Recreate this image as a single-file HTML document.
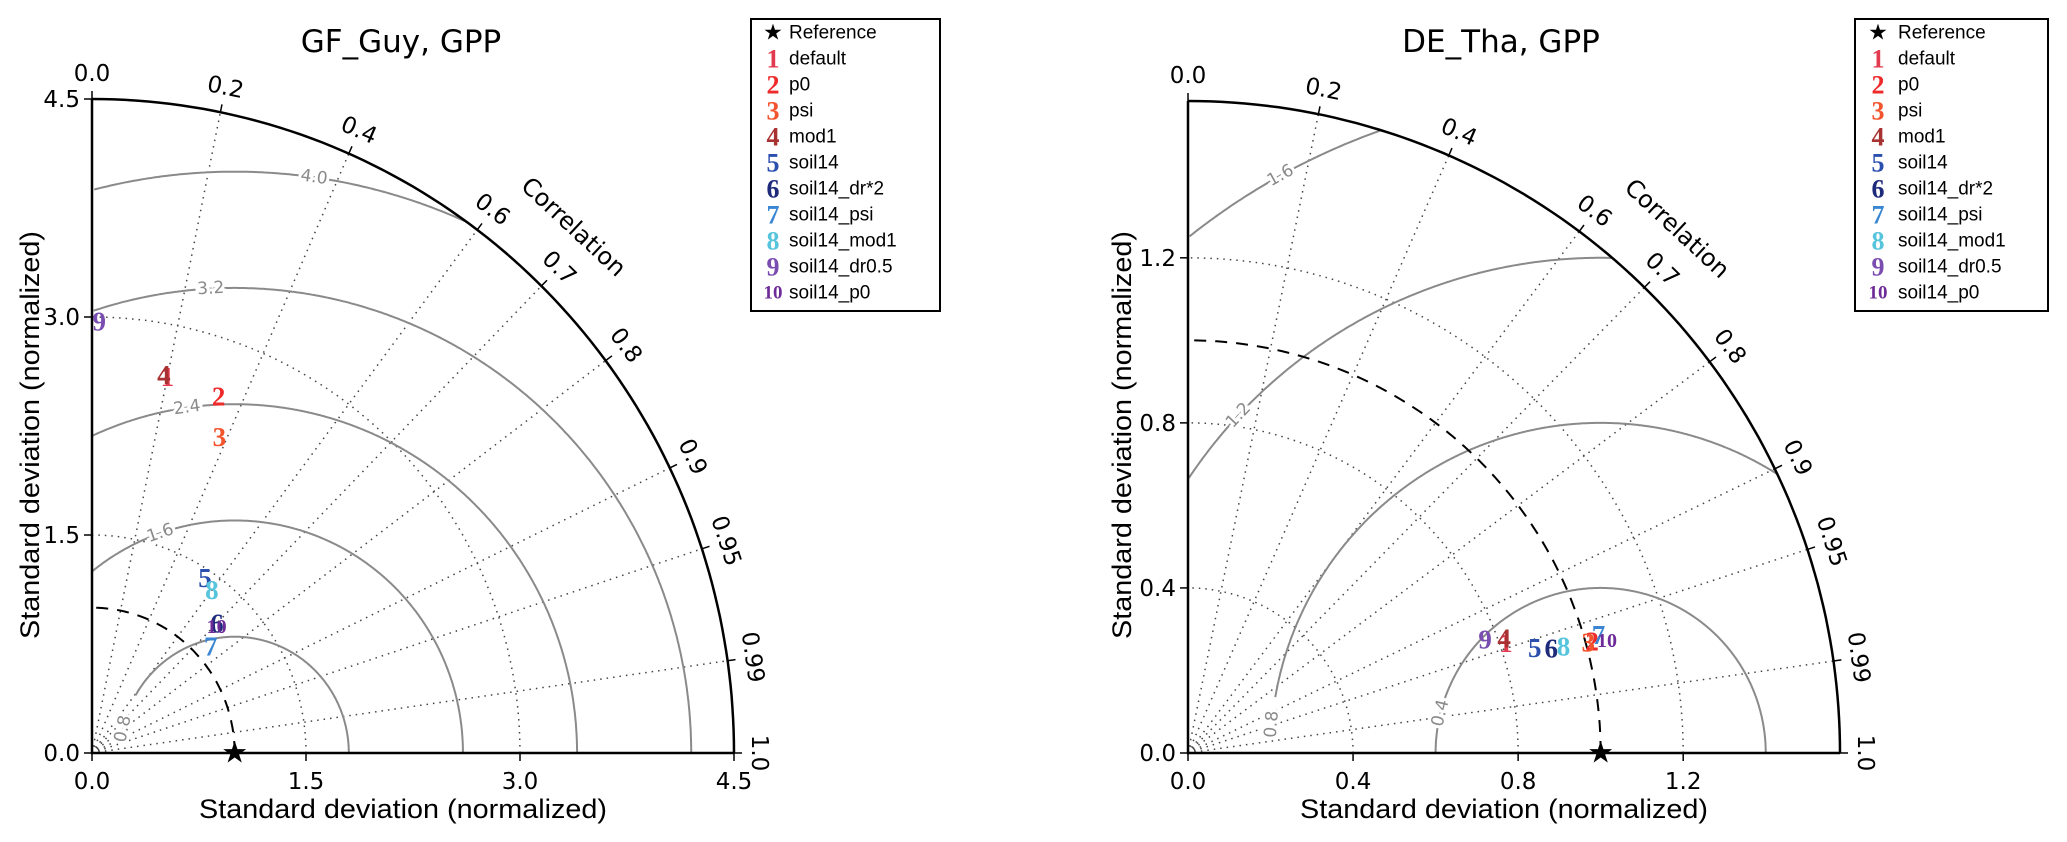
<!DOCTYPE html>
<html><head><meta charset="utf-8"><style>
html,body{margin:0;padding:0;background:#fff;}
svg{display:block;}
</style></head><body>
<svg id="fig" width="2067" height="842" viewBox="0 0 2067 842" xmlns="http://www.w3.org/2000/svg"></svg>
<script>
const runNames = ["default","p0","psi","mod1","soil14","soil14_dr*2","soil14_psi","soil14_mod1","soil14_dr0.5","soil14_p0"];
const runColors = ["#e23a4e","#ee2a2a","#f2552e","#a83232","#2a4fae","#1e2a7a","#3a86d2","#55c4dc","#7a4eb0","#6e2a98"];
const corrTicks = [0.0,0.2,0.4,0.6,0.7,0.8,0.9,0.95,0.99,1.0];
// GF_Guy
const guyStd  = [2.64,2.61,2.35,2.65,1.44,1.25,1.11,1.40,2.97,1.23];
const guyCorr = [0.20,0.34,0.38,0.19,0.55,0.70,0.75,0.60,0.017,0.71];
const guyStdTicks = [0.0,1.5,3.0,4.5];
const guyRms = [0.8,1.6,2.4,3.2,4.0];
const guyRmsLabelAng = [168,109,98,93,82];
// DE_Tha
const thaStd  = [0.815,1.016,1.006,0.815,0.878,0.916,1.035,0.946,0.771,1.051];
const thaCorr = [0.945,0.964,0.964,0.940,0.957,0.961,0.961,0.962,0.934,0.966];
const thaStdTicks = [0.0,0.4,0.8,1.2];
const thaRms = [0.4,0.8,1.2,1.6];
const thaRmsLabelAng = [166,175,137,119];

const NS="http://www.w3.org/2000/svg";
const fig=document.getElementById('fig');
function mk(tag,attrs,parent){const e=document.createElementNS(NS,tag);for(const k in attrs)e.setAttribute(k,attrs[k]);(parent||fig).appendChild(e);return e;}

function taylor(cfg){
  const g=mk('g',{});
  
  
  const ox=cfg.ox, oy=cfg.oy, R=cfg.rmax;
  const X=x=>ox+x*cfg.sx, Y=y=>oy-y*cfg.sy;
  const P=(r,th)=>[X(r*Math.cos(th)),Y(r*Math.sin(th))];
  function arcPath(r){let d='';for(let i=0;i<=90;i++){const th=i/90*Math.PI/2;const p=P(r,th);d+=(i?'L':'M')+p[0].toFixed(1)+','+p[1].toFixed(1);}return d;}
  cfg.stdTicks.forEach(s=>{ if(s>0 && s<R-1e-6){
    const a=mk('path',{d:arcPath(s),fill:'none',stroke:'#444','stroke-width':1.5,'stroke-dasharray':'1.5,5'},g);
    
    
  }});
  corrTicks.forEach(c=>{ if(c>0 && c<1){
    const th=Math.acos(c);const p=P(R,th);
    const l=mk('line',{x1:ox,y1:oy,x2:p[0],y2:p[1],stroke:'#444','stroke-width':1.5,'stroke-dasharray':'1.5,5'},g);
    
    
  }});
  cfg.rms.forEach((rv,k)=>{
    let d='',pen=false;
    for(let i=0;i<=720;i++){const a=i/720*Math.PI;const x=1+rv*Math.cos(a),y=rv*Math.sin(a);
      const rr=Math.hypot(x,y);
      const inside=x>=0&&y>=0&&rr<=R&&rr>=cfg.rmin;
      if(inside){d+=(pen?'L':'M')+X(x).toFixed(1)+','+Y(y).toFixed(1);pen=true;}else pen=false;}
    const c=mk('path',{d:d,fill:'none',stroke:'#8a8a8a','stroke-width':2},g);
    
    
    const la=cfg.rmsAng[k]*Math.PI/180;const lx=X(1+rv*Math.cos(la)),ly=Y(rv*Math.sin(la));
    const t=mk('text',{x:lx,y:ly,'font-family':'DejaVu Sans, sans-serif','font-size':17,fill:'#8a8a8a','text-anchor':'middle','dominant-baseline':'central',stroke:'#fff','stroke-width':6,'paint-order':'stroke',transform:`rotate(${(90-cfg.rmsAng[k]).toFixed(1)},${lx},${ly})`},g);
    t.textContent=rv.toFixed(1);
    
    
  });
  const rc=mk('path',{d:arcPath(1),fill:'none',stroke:'#000','stroke-width':2,'stroke-dasharray':'12,9'},g);
  
  
  const ax=mk('path',{d:`M${ox},${Y(R)}L${ox},${oy}L${X(R)},${oy}`,fill:'none',stroke:'#000','stroke-width':2.5},g);
  
  
  const oa=mk('path',{d:arcPath(R),fill:'none',stroke:'#000','stroke-width':2.5},g);
  
  
  cfg.stdTicks.forEach(s=>{
    mk('line',{x1:X(s),y1:oy,x2:X(s),y2:oy+8,stroke:'#000','stroke-width':1.5},g);
    mk('line',{x1:ox,y1:Y(s),x2:ox-8,y2:Y(s),stroke:'#000','stroke-width':1.5},g);
    const tx=mk('text',{x:X(s),y:oy+36,'font-family':'DejaVu Sans, sans-serif','font-size':23,'text-anchor':'middle'},g);
    tx.textContent=s.toFixed(1);
    
    
    const ty=mk('text',{x:ox-12,y:Y(s)+8,'font-family':'DejaVu Sans, sans-serif','font-size':23,'text-anchor':'end'},g);
    ty.textContent=s.toFixed(1);
    
    
  });
  corrTicks.forEach(c=>{
    const th=Math.acos(c);const p1=P(R,th);
    const ux=Math.cos(th),uy=Math.sin(th);
    mk('line',{x1:p1[0],y1:p1[1],x2:p1[0]+ux*8,y2:p1[1]-uy*8,stroke:'#000','stroke-width':1.5},g);
    const lx=p1[0]+ux*25,ly=p1[1]-uy*25;
    const t=mk('text',{x:lx,y:ly,'font-family':'DejaVu Sans, sans-serif','font-size':23,'text-anchor':'middle','dominant-baseline':'central',transform:`rotate(${(90-th*180/Math.PI).toFixed(1)},${lx},${ly})`},g);
    t.textContent=(c===0.95||c===0.99)?String(c):c.toFixed(1);
    
    
  });
  const ca=47*Math.PI/180, cr=R*1.1;
  const cy=oy-cr*Math.sin(ca)*cfg.sy;
  const ccx=ox+R*cfg.sx*1.1*Math.cos(ca);
  const ct=mk('text',{x:ccx,y:cy,'font-family':'DejaVu Sans, sans-serif','font-size':24,'text-anchor':'middle','dominant-baseline':'central',transform:`rotate(43,${ccx},${cy})`},g);
  ct.textContent='Correlation';
  
  
  const xt=mk('text',{x:(ox+X(R))/2-10,y:818,'font-family':'Liberation Sans, sans-serif','font-size':27,'text-anchor':'middle',textLength:408,lengthAdjust:'spacingAndGlyphs'},g);
  xt.textContent='Standard deviation (normalized)';
  
  
  const yx=cfg.ylx, yy=435;
  const yt=mk('text',{x:yx,y:yy,'font-family':'Liberation Sans, sans-serif','font-size':27,'text-anchor':'middle','dominant-baseline':'central',textLength:408,lengthAdjust:'spacingAndGlyphs',transform:`rotate(-90,${yx},${yy})`},g);
  yt.textContent='Standard deviation (normalized)';
  
  
  const tt=mk('text',{x:cfg.tx,y:52,'font-family':'DejaVu Sans, sans-serif','font-size':31,'text-anchor':'middle'},g);
  tt.textContent=cfg.title;
  
  
  const st=mk('text',{x:X(1),y:oy,'font-family':'DejaVu Sans, sans-serif','font-size':30,'text-anchor':'middle','dominant-baseline':'central'},g);
  st.textContent='★';
  
  
  cfg.std.forEach((s,i)=>{
    const th=Math.acos(cfg.corr[i]);const p=P(s,th);
    const m=mk('text',{x:p[0],y:p[1],'font-family':'Liberation Serif, serif','font-weight':'bold','font-size':i===9?20:27,fill:runColors[i],'text-anchor':'middle','dominant-baseline':'central'},g);
    m.textContent=String(i+1);
    
    
  });
  const lg=mk('g',{},g);
  
  
  mk('rect',{x:cfg.lgx,y:19,width:cfg.lgw,height:292,fill:'#fff',stroke:'#000','stroke-width':2},lg);
  const mx=cfg.lgx+cfg.lgm, tx0=cfg.lgx+cfg.lgt;
  const rs=mk('text',{x:mx,y:33,'font-family':'DejaVu Sans, sans-serif','font-size':22,'text-anchor':'middle','dominant-baseline':'central'},lg);
  rs.textContent='★';
  const rl=mk('text',{x:tx0,y:33,'font-family':'Liberation Sans, sans-serif','font-size':19,'dominant-baseline':'central'},lg);
  rl.textContent='Reference';
  
  
  runNames.forEach((n,i)=>{
    const yy=59+i*26;
    const lm=mk('text',{x:mx,y:yy,'font-family':'Liberation Serif, serif','font-weight':'bold','font-size':i===9?19:26,fill:runColors[i],'text-anchor':'middle','dominant-baseline':'central'},lg);
    lm.textContent=String(i+1);
    const lt=mk('text',{x:tx0,y:yy,'font-family':'Liberation Sans, sans-serif','font-size':19,'dominant-baseline':'central'},lg);
    lt.textContent=n;
    
    
  });
}
taylor({id:'gf-guy',title:'GF_Guy, GPP',ox:92,oy:753,rmax:4.5,rmin:0.5,sx:642/4.5,sy:654/4.5,stdTicks:guyStdTicks,rms:guyRms,rmsAng:guyRmsLabelAng,std:guyStd,corr:guyCorr,tx:401,ylx:30,lgx:751,lgw:189,lgm:22,lgt:38});
taylor({id:'de-tha',title:'DE_Tha, GPP',ox:1188,oy:753,rmax:1.58,rmin:0.25,sx:652/1.58,sy:652/1.58,stdTicks:thaStdTicks,rms:thaRms,rmsAng:thaRmsLabelAng,std:thaStd,corr:thaCorr,tx:1501,ylx:1122,lgx:1855,lgw:193,lgm:23,lgt:43});
</script>
</body></html>
